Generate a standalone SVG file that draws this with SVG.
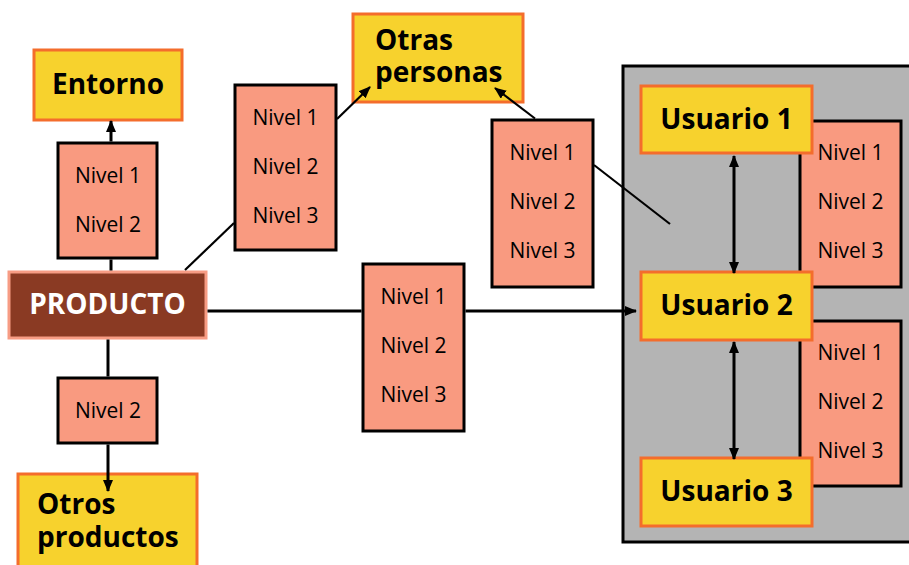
<svg xmlns="http://www.w3.org/2000/svg" width="909" height="565" viewBox="0 0 909 565">
<style>
.lvl{fill:#F99A80;stroke:#000;stroke-width:3}
.tgt{fill:#F7D22D;stroke:#F46D2C;stroke-width:3}
.t{font-family:"Open Sans","Liberation Sans",sans-serif;font-size:21px;fill:#000;text-anchor:middle}
.b{font-family:"Open Sans","Liberation Sans",sans-serif;font-size:28px;font-weight:bold;fill:#000;text-anchor:middle}
.bl{font-family:"Open Sans","Liberation Sans",sans-serif;font-size:28px;font-weight:bold;fill:#000}
.ln{stroke:#000;stroke-width:3;fill:none}
.ld{stroke:#000;stroke-width:2.2;fill:none}
</style>
<defs>
<marker id="ah" markerWidth="12" markerHeight="10" refX="11" refY="5" orient="auto" markerUnits="userSpaceOnUse">
<path d="M0,0 L12,5 L0,10 Z" fill="#000"/>
</marker>
<marker id="as" markerWidth="12" markerHeight="10" refX="1" refY="5" orient="auto" markerUnits="userSpaceOnUse">
<path d="M12,0 L0,5 L12,10 Z" fill="#000"/>
</marker>
</defs>
<rect width="909" height="565" fill="#fff"/>
<g id="usuarios">
<rect x="623" y="66" width="292" height="476" fill="#B4B4B4" stroke="#000" stroke-width="3"/>
</g>
<g id="entorno">
<rect class="tgt" x="34" y="50" width="148" height="70"/>
<text class="b" x="108" y="94">Entorno</text>
</g>
<g id="nivel-entorno">
<rect class="lvl" x="58" y="143" width="99" height="115"/>
<text class="t" x="108" y="183">Nivel 1</text>
<text class="t" x="108" y="232">Nivel 2</text>
</g>
<g id="producto">
<rect x="9" y="272" width="197" height="66" fill="#8A3A23" stroke="#F79C84" stroke-width="3"/>
<text class="b" x="107.5" y="314" style="fill:#fff">PRODUCTO</text>
</g>
<g id="nivel-otras-1">
<rect class="lvl" x="235" y="85" width="101" height="165"/>
<text class="t" x="285.5" y="125">Nivel 1</text>
<text class="t" x="285.5" y="174">Nivel 2</text>
<text class="t" x="285.5" y="223">Nivel 3</text>
</g>
<g id="otras-personas">
<rect class="tgt" x="353" y="14" width="170" height="88"/>
<text class="bl" x="375" y="50">Otras</text>
<text class="bl" x="375" y="82">personas</text>
</g>
<g id="nivel-otras-2">
<rect class="lvl" x="492" y="120" width="101" height="167"/>
<text class="t" x="542.5" y="160">Nivel 1</text>
<text class="t" x="542.5" y="209">Nivel 2</text>
<text class="t" x="542.5" y="258">Nivel 3</text>
</g>
<g id="nivel-usuario">
<rect class="lvl" x="363" y="264" width="101" height="167"/>
<text class="t" x="413.5" y="304">Nivel 1</text>
<text class="t" x="413.5" y="353">Nivel 2</text>
<text class="t" x="413.5" y="402">Nivel 3</text>
</g>
<g id="nivel-productos">
<rect class="lvl" x="58" y="378" width="99" height="65"/>
<text class="t" x="108" y="418">Nivel 2</text>
</g>
<g id="otros-productos">
<rect class="tgt" x="18" y="474" width="179" height="100"/>
<text class="bl" x="37" y="514">Otros</text>
<text class="bl" x="37" y="547">productos</text>
</g>
<g id="nivel-u12">
<rect class="lvl" x="800" y="121" width="101" height="166"/>
<text class="t" x="850.5" y="160">Nivel 1</text>
<text class="t" x="850.5" y="209">Nivel 2</text>
<text class="t" x="850.5" y="258">Nivel 3</text>
</g>
<g id="nivel-u23">
<rect class="lvl" x="800" y="321" width="101" height="165"/>
<text class="t" x="850.5" y="360">Nivel 1</text>
<text class="t" x="850.5" y="409">Nivel 2</text>
<text class="t" x="850.5" y="458">Nivel 3</text>
</g>
<g id="usuario1">
<rect class="tgt" x="641" y="86" width="171" height="67"/>
<text class="b" x="726.5" y="129">Usuario 1</text>
</g>
<g id="usuario2">
<rect class="tgt" x="641" y="272" width="171" height="68"/>
<text class="b" x="726.5" y="315">Usuario 2</text>
</g>
<g id="usuario3">
<rect class="tgt" x="641" y="458" width="171" height="68"/>
<text class="b" x="726.5" y="501">Usuario 3</text>
</g>
<g id="connectors">
<line class="ln" x1="111" y1="270.5" x2="111" y2="259.5"/>
<line class="ln" x1="111" y1="141.5" x2="111" y2="121" marker-end="url(#ah)"/>
<line class="ln" x1="108" y1="339.5" x2="108" y2="376.5"/>
<line class="ln" x1="108" y1="444.5" x2="108" y2="491" marker-end="url(#ah)"/>
<line class="ld" x1="185" y1="270" x2="234" y2="223"/>
<line class="ld" x1="337" y1="119" x2="370" y2="87" marker-end="url(#ah)"/>
<line class="ld" x1="535" y1="118.5" x2="495" y2="88" marker-end="url(#ah)"/>
<line class="ld" x1="594" y1="165" x2="670" y2="224"/>
<line class="ln" x1="207.5" y1="311" x2="361.5" y2="311"/>
<line class="ln" x1="465.5" y1="311" x2="636" y2="311" marker-end="url(#ah)"/>
<line class="ln" x1="734" y1="156" x2="734" y2="273" marker-start="url(#as)" marker-end="url(#ah)"/>
<line class="ln" x1="734" y1="342" x2="734" y2="459" marker-start="url(#as)" marker-end="url(#ah)"/>
</g>
</svg>
